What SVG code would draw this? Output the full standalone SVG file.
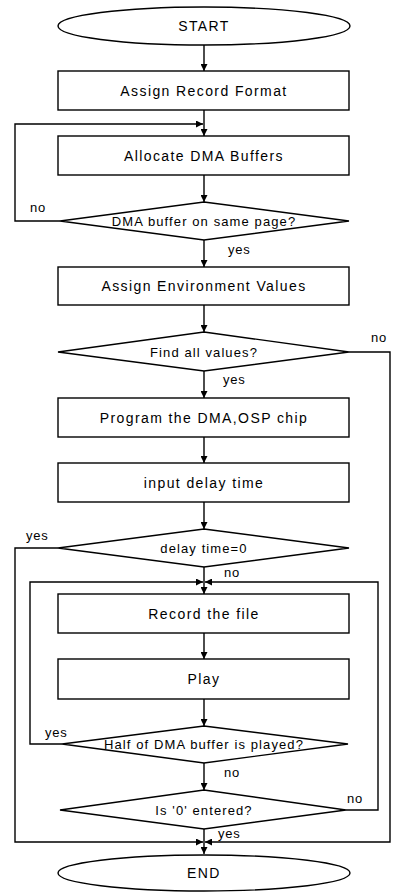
<svg xmlns="http://www.w3.org/2000/svg" width="393" height="892" viewBox="0 0 393 892">
  <defs>
    <marker id="arrow" viewBox="0 0 10 10" refX="10" refY="5" markerWidth="7" markerHeight="7" markerUnits="userSpaceOnUse" orient="auto">
      <path d="M0,0 L10,5 L0,10 z" fill="#000"/>
    </marker>
    <style>
      .shape { fill: #fff; stroke: #000; stroke-width: 1.4; }
      .box { font-family: "Liberation Sans", Arial, sans-serif; font-size: 14px; letter-spacing: 1.4px; text-anchor: middle; fill: #000; }
      .cond { font-family: "Liberation Sans", Arial, sans-serif; font-size: 13px; letter-spacing: 1.1px; text-anchor: middle; fill: #000; }
      .lbl { font-family: "Liberation Sans", Arial, sans-serif; font-size: 13px; letter-spacing: 0.8px; fill: #000; }
      .conn { fill: none; stroke: #000; stroke-width: 1.4; }
    </style>
  </defs>
  <rect width="393" height="892" fill="#fff"/>

  <!-- connectors -->
  <g id="connectors">
    <path class="conn" d="M204,45 V71" marker-end="url(#arrow)"/>
    <path class="conn" d="M204,110 V136" marker-end="url(#arrow)"/>
    <path class="conn" d="M60,221 H15 V124 H203" marker-end="url(#arrow)"/>
    <path class="conn" d="M204,175 V202" marker-end="url(#arrow)"/>
    <path class="conn" d="M204,240 V267" marker-end="url(#arrow)"/>
    <path class="conn" d="M204,305 V332" marker-end="url(#arrow)"/>
    <path class="conn" d="M204,371 V398" marker-end="url(#arrow)"/>
    <path class="conn" d="M349,352 H390 V842 H205" marker-end="url(#arrow)"/>
    <path class="conn" d="M204,437 V463" marker-end="url(#arrow)"/>
    <path class="conn" d="M204,502 V529" marker-end="url(#arrow)"/>
    <path class="conn" d="M58,548 H15 V842 H203" marker-end="url(#arrow)"/>
    <path class="conn" d="M204,567 V594" marker-end="url(#arrow)"/>
    <path class="conn" d="M62,744 H30 V582 H203" marker-end="url(#arrow)"/>
    <path class="conn" d="M346,810 H378 V582 H205" marker-end="url(#arrow)"/>
    <path class="conn" d="M204,633 V659" marker-end="url(#arrow)"/>
    <path class="conn" d="M204,699 V726" marker-end="url(#arrow)"/>
    <path class="conn" d="M204,763 V790" marker-end="url(#arrow)"/>
    <path class="conn" d="M204,829 V854" marker-end="url(#arrow)"/>
  </g>

  <!-- branch labels -->
  <g id="labels">
    <text class="lbl" x="30" y="212">no</text>
    <text class="lbl" x="228" y="254">yes</text>
    <text class="lbl" x="371" y="342">no</text>
    <text class="lbl" x="223" y="384">yes</text>
    <text class="lbl" x="26" y="540">yes</text>
    <text class="lbl" x="224" y="577">no</text>
    <text class="lbl" x="45" y="737">yes</text>
    <text class="lbl" x="224" y="777">no</text>
    <text class="lbl" x="347" y="803">no</text>
    <text class="lbl" x="218" y="838">yes</text>
  </g>

  <g id="start">
    <ellipse class="shape" cx="204" cy="26" rx="146" ry="19"/>
    <text class="box" x="204" y="30.5">START</text>
  </g>
  <g id="assign-record-format">
    <rect class="shape" x="58" y="71" width="291" height="39"/>
    <text class="box" x="204" y="95.5">Assign Record Format</text>
  </g>
  <g id="allocate-dma-buffers">
    <rect class="shape" x="58" y="136" width="291" height="39"/>
    <text class="box" x="204" y="160.5">Allocate DMA Buffers</text>
  </g>
  <g id="dma-same-page">
    <polygon class="shape" points="204,202 349,221 204,240 60,221"/>
    <text class="cond" x="204" y="225.5">DMA buffer on same page?</text>
  </g>
  <g id="assign-environment-values">
    <rect class="shape" x="58" y="267" width="291" height="38"/>
    <text class="box" x="204" y="291">Assign Environment Values</text>
  </g>
  <g id="find-all-values">
    <polygon class="shape" points="204,332 349,352 204,371 58,352"/>
    <text class="cond" x="204" y="356.5">Find all values?</text>
  </g>
  <g id="program-dma-dsp">
    <rect class="shape" x="58" y="398" width="291" height="39"/>
    <text class="box" x="204" y="422.5">Program the DMA,OSP chip</text>
  </g>
  <g id="input-delay-time">
    <rect class="shape" x="58" y="463" width="291" height="39"/>
    <text class="box" x="204" y="487.5">input delay time</text>
  </g>
  <g id="delay-zero">
    <polygon class="shape" points="204,529 349,548 204,567 58,548"/>
    <text class="cond" x="204" y="552.5">delay time=0</text>
  </g>
  <g id="record-file">
    <rect class="shape" x="58" y="594" width="291" height="39"/>
    <text class="box" x="204" y="618.5">Record the file</text>
  </g>
  <g id="play">
    <rect class="shape" x="58" y="659" width="291" height="40"/>
    <text class="box" x="204" y="684">Play</text>
  </g>
  <g id="half-played">
    <polygon class="shape" points="204,726 348,744 204,763 62,744"/>
    <text class="cond" x="204" y="748.5">Half of DMA buffer is played?</text>
  </g>
  <g id="zero-entered">
    <polygon class="shape" points="204,790 346,810 204,829 60,810"/>
    <text class="cond" x="204" y="814.5">Is '0' entered?</text>
  </g>
  <g id="end">
    <ellipse class="shape" cx="204" cy="873" rx="146" ry="18"/>
    <text class="box" x="204" y="878">END</text>
  </g>
</svg>
